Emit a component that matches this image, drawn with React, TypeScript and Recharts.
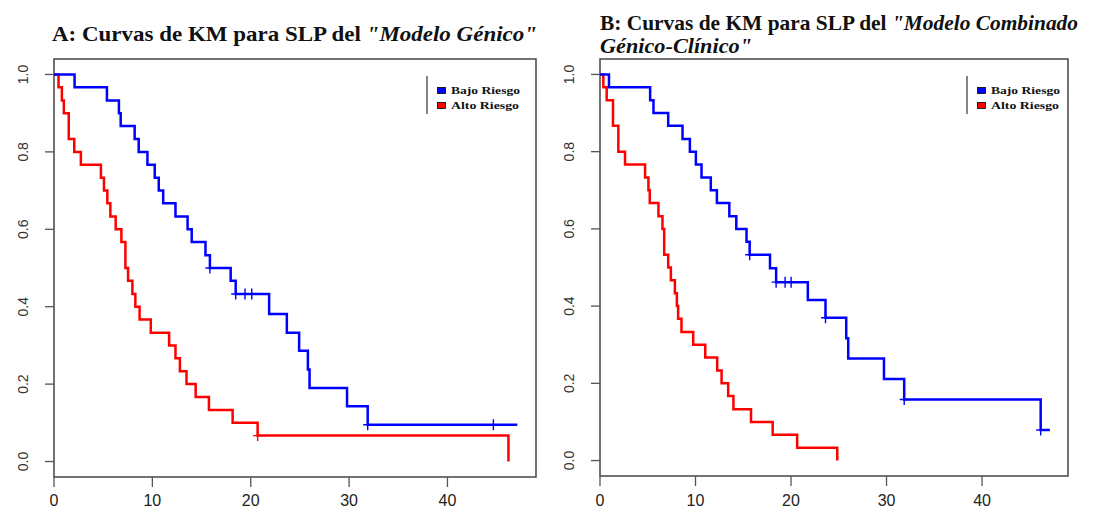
import React from 'react';
import { LineChart, Line, XAxis, YAxis, ReferenceArea } from 'recharts';

type Pt = { t: number; s: number; c?: boolean };

// Panel A: "Modelo Génico"
const aBajoRiesgo: Pt[] = [
  { t: 0, s: 1 }, { t: 2.09, s: 0.967 }, { t: 5.38, s: 0.933 }, { t: 6.6, s: 0.9 },
  { t: 6.78, s: 0.867 }, { t: 8.2, s: 0.833 }, { t: 8.61, s: 0.8 }, { t: 9.5, s: 0.767 },
  { t: 10.24, s: 0.733 }, { t: 10.65, s: 0.7 }, { t: 11.1, s: 0.667 }, { t: 12.35, s: 0.633 },
  { t: 13.58, s: 0.6 }, { t: 14.0, s: 0.567 }, { t: 15.4, s: 0.533 }, { t: 15.85, s: 0.5, c: true },
  { t: 17.96, s: 0.467 }, { t: 18.47, s: 0.433, c: true }, { t: 19.42, s: 0.433, c: true },
  { t: 20.1, s: 0.433, c: true }, { t: 21.87, s: 0.381 }, { t: 23.67, s: 0.333 },
  { t: 24.92, s: 0.286 }, { t: 25.81, s: 0.238 }, { t: 25.98, s: 0.19 }, { t: 29.79, s: 0.143 },
  { t: 31.89, s: 0.095, c: true }, { t: 44.67, s: 0.095, c: true }, { t: 47.1, s: 0.095 },
];

const aAltoRiesgo: Pt[] = [
  { t: 0, s: 1 }, { t: 0.46, s: 0.967 }, { t: 0.8, s: 0.933 }, { t: 1.0, s: 0.9 },
  { t: 1.5, s: 0.833 }, { t: 2.06, s: 0.8 }, { t: 2.73, s: 0.767 }, { t: 4.77, s: 0.733 },
  { t: 5.08, s: 0.7 }, { t: 5.42, s: 0.667 }, { t: 5.73, s: 0.633 }, { t: 6.27, s: 0.6 },
  { t: 6.85, s: 0.567 }, { t: 7.26, s: 0.5 }, { t: 7.53, s: 0.467 }, { t: 7.97, s: 0.433 },
  { t: 8.27, s: 0.4 }, { t: 8.7, s: 0.367 }, { t: 9.84, s: 0.333 }, { t: 11.7, s: 0.3 },
  { t: 12.35, s: 0.267 }, { t: 12.8, s: 0.233 }, { t: 13.47, s: 0.2 }, { t: 14.4, s: 0.167 },
  { t: 15.75, s: 0.133 }, { t: 18.16, s: 0.1 }, { t: 20.7, s: 0.067, c: true }, { t: 46.2, s: 0 },
];

// Panel B: "Modelo Combinado Génico-Clínico"
const bBajoRiesgo: Pt[] = [
  { t: 0, s: 1 }, { t: 0.94, s: 0.967 }, { t: 5.25, s: 0.933 }, { t: 5.6, s: 0.9 },
  { t: 7.14, s: 0.867 }, { t: 8.64, s: 0.833 }, { t: 9.41, s: 0.8 }, { t: 10.04, s: 0.767 },
  { t: 10.63, s: 0.733 }, { t: 11.6, s: 0.7 }, { t: 12.24, s: 0.667 }, { t: 13.54, s: 0.633 },
  { t: 14.27, s: 0.6 }, { t: 15.34, s: 0.567 }, { t: 15.67, s: 0.533, c: true }, { t: 17.8, s: 0.498 },
  { t: 18.44, s: 0.462, c: true }, { t: 19.38, s: 0.462, c: true }, { t: 20.01, s: 0.462, c: true },
  { t: 21.76, s: 0.416 }, { t: 23.61, s: 0.37, c: true }, { t: 25.78, s: 0.317 }, { t: 25.99, s: 0.264 },
  { t: 29.73, s: 0.211 }, { t: 31.85, s: 0.158, c: true }, { t: 46.14, s: 0.079, c: true }, { t: 47.1, s: 0.079 },
];

const bAltoRiesgo: Pt[] = [
  { t: 0, s: 1 }, { t: 0.35, s: 0.967 }, { t: 0.7, s: 0.933 }, { t: 1.36, s: 0.867 },
  { t: 1.92, s: 0.8 }, { t: 2.62, s: 0.767 }, { t: 4.72, s: 0.733 }, { t: 5.07, s: 0.7 },
  { t: 5.21, s: 0.667 }, { t: 6.12, s: 0.633 }, { t: 6.54, s: 0.6 }, { t: 6.72, s: 0.533 },
  { t: 7.14, s: 0.5 }, { t: 7.42, s: 0.467 }, { t: 7.84, s: 0.433 }, { t: 8.05, s: 0.4 },
  { t: 8.18, s: 0.367 }, { t: 8.53, s: 0.333 }, { t: 9.76, s: 0.3 }, { t: 11.02, s: 0.267 },
  { t: 12.27, s: 0.233 }, { t: 12.73, s: 0.2 }, { t: 13.42, s: 0.167 }, { t: 13.97, s: 0.133 },
  { t: 15.81, s: 0.1 }, { t: 18.08, s: 0.067 }, { t: 20.64, s: 0.033 }, { t: 24.84, s: 0 },
];

const xTicks = [0, 10, 20, 30, 40];
const yTicks = [0, 0.2, 0.4, 0.6, 0.8, 1.0];
const legendLabels = ['Bajo Riesgo', 'Alto Riesgo'];
const BLUE = '#0000FF';
const RED = '#FF0000';

const censorDot = (color: string) => (props: any) => {
  const { cx, cy, payload, index } = props;
  if (!payload || !payload.c || cx == null || cy == null) return <g key={`d${index}`} />;
  return (
    <path
      key={`d${index}`}
      d={`M${cx - 4.5},${cy}H${cx + 4.5}M${cx},${cy - 5.5}V${cy + 5.5}`}
      stroke={color}
      strokeWidth={1.4}
      fill="none"
    />
  );
};

type PanelProps = {
  left: number;
  width: number;
  plotLeft: number;
  plotRight: number;
  plotBottom: number;
  bajo: Pt[];
  alto: Pt[];
};

const Panel = ({ left, width, plotLeft, plotRight, plotBottom, bajo, alto }: PanelProps) => {
  const H = 515;
  const top = 59;
  const yTick = (p: any) => {
    const cx = plotLeft - 31;
    return (
      <text
        x={cx}
        y={p.y}
        dy="0.36em"
        transform={`rotate(-90, ${cx}, ${p.y})`}
        textAnchor="middle"
        fontFamily="Liberation Sans, Arial, sans-serif"
        fontSize={14}
        fill="#333"
      >
        {Number(p.payload.value).toFixed(1)}
      </text>
    );
  };
  const xTick = (p: any) => (
    <text
      x={p.x}
      y={506}
      textAnchor="middle"
      fontFamily="Liberation Sans, Arial, sans-serif"
      fontSize={16}
      fill="#222"
    >
      {p.payload.value}
    </text>
  );
  return (
    <div style={{ position: 'absolute', left, top: 0 }}>
      <LineChart
        width={width}
        height={H}
        margin={{ top, right: width - plotRight, bottom: 0, left: 0 }}
      >
        <XAxis
          type="number"
          dataKey="t"
          domain={[0, 49]}
          ticks={xTicks}
          allowDataOverflow
          height={H - plotBottom}
          axisLine={false}
          tickLine={{ stroke: '#555', strokeWidth: 1.3 }}
          tickSize={10}
          tick={xTick}
          interval={0}
        />
        <YAxis
          type="number"
          domain={[-0.04, 1.04]}
          ticks={yTicks}
          allowDataOverflow
          width={plotLeft}
          axisLine={false}
          tickLine={{ stroke: '#555', strokeWidth: 1.3 }}
          tickSize={9}
          tick={yTick}
          interval={0}
        />
        <ReferenceArea
          x1={0}
          x2={49}
          y1={-0.04}
          y2={1.04}
          fill="none"
          fillOpacity={0}
          stroke="#444"
          strokeWidth={1.5}
          ifOverflow="visible"
        />
        <Line
          data={alto}
          dataKey="s"
          type="stepAfter"
          stroke={RED}
          strokeWidth={2.5}
          dot={censorDot(RED)}
          activeDot={false}
          isAnimationActive={false}
        />
        <Line
          data={bajo}
          dataKey="s"
          type="stepAfter"
          stroke={BLUE}
          strokeWidth={2.5}
          dot={censorDot(BLUE)}
          activeDot={false}
          isAnimationActive={false}
        />
      </LineChart>
    </div>
  );
};

const Legend = ({ x }: { x: number }) => (
  <g>
    <line x1={x} y1={76} x2={x} y2={114} stroke="#333" strokeWidth={1.2} />
    {legendLabels.map((lab, i) => (
      <g key={lab}>
        <rect x={x + 10.5} y={87.5 + i * 15} width={8} height={6} fill={i === 0 ? BLUE : RED} stroke="#000" strokeWidth={0.8} />
        <text
          x={x + 24}
          y={94 + i * 15}
          fontFamily="Liberation Serif, Times New Roman, serif"
          fontWeight="bold"
          fontSize={11}
          fill="#111"
          textLength={i === 0 ? 69 : 68}
          lengthAdjust="spacingAndGlyphs"
        >
          {lab}
        </text>
      </g>
    ))}
  </g>
);

export default function App() {
  const titleFont = 'Liberation Serif, Times New Roman, serif';
  return (
    <div style={{ position: 'absolute', left: 0, top: 0, width: 1107, height: 515, background: '#fff', overflow: 'hidden' }}>
      <Panel left={0} width={560} plotLeft={54} plotRight={536} plotBottom={477} bajo={aBajoRiesgo} alto={aAltoRiesgo} />
      <Panel left={560} width={547} plotLeft={40} plotRight={508} plotBottom={476} bajo={bBajoRiesgo} alto={bAltoRiesgo} />
      <svg width={1107} height={515} style={{ position: 'absolute', left: 0, top: 0, pointerEvents: 'none' }}>
        <text x={52} y={41} fontFamily={titleFont} fontWeight="bold" fontSize={21} fill="#111" textLength={485} lengthAdjust="spacingAndGlyphs">
          A: Curvas de KM para SLP del <tspan fontStyle="italic">"Modelo Génico"</tspan>
        </text>
        <text x={600} y={30} fontFamily={titleFont} fontWeight="bold" fontSize={21} fill="#111" textLength={478} lengthAdjust="spacingAndGlyphs">
          B: Curvas de KM para SLP del <tspan fontStyle="italic">"Modelo Combinado</tspan>
        </text>
        <text x={600} y={53} fontFamily={titleFont} fontWeight="bold" fontStyle="italic" fontSize={21} fill="#111" textLength={152} lengthAdjust="spacingAndGlyphs">
          Génico-Clínico"
        </text>
        <Legend x={427} />
        <Legend x={967} />
      </svg>
    </div>
  );
}
